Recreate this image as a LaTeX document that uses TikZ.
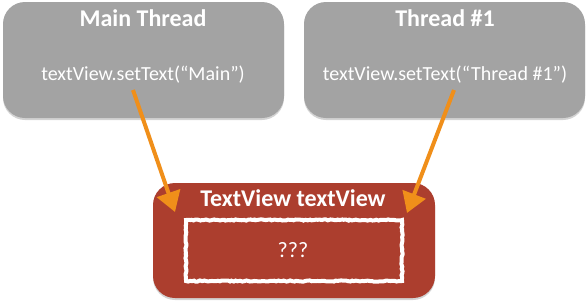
\documentclass[tikz,border=0pt]{standalone}
\usepackage{fontspec}
\setmainfont{Carlito}
\usetikzlibrary{arrows.meta,shadows,decorations.pathmorphing}
\definecolor{boxgray}{RGB}{163,163,163}
\definecolor{boxred}{RGB}{172,62,46}
\definecolor{arroworange}{RGB}{240,143,26}
\tikzset{
  threadbox/.style={fill=boxgray, rounded corners=22pt, minimum width=281pt, minimum height=116pt,
    drop shadow={shadow xshift=0pt, shadow yshift=-2pt, opacity=0.35}},
  viewbox/.style={fill=boxred, rounded corners=22pt, minimum width=282pt, minimum height=115pt,
    drop shadow={shadow xshift=0pt, shadow yshift=-2pt, opacity=0.35}},
  chalkbox/.style={draw=white, line width=4pt, minimum width=216pt, minimum height=61pt,
    decorate, decoration={random steps, segment length=2pt, amplitude=0.6pt}},
  title/.style={text=white, font=\bfseries\fontsize{24}{26}\selectfont},
  code/.style={text=white, font=\fontsize{20}{22}\selectfont},
  chalkarrow/.style={draw=arroworange, line width=4pt,
    -{Triangle[length=20pt,width=24pt]}},
}
\begin{document}
\begin{tikzpicture}[x=1pt,y=-1pt]
\useasboundingbox (0,0) rectangle (588,303);
\node[threadbox] (main) at (143.5,60) {};
\node[threadbox] (t1) at (444.5,60) {};
\node[viewbox] (tv) at (294,240.5) {};
\node[chalkbox] (inner) at (294,250.5) {};
\node[title] (mainT) at (143,18) {Main Thread};
\node[title] (t1T) at (445,18) {Thread \#1};
\node[code] (mainC) at (143,75) {textView.setText(“Main”)};
\node[code] (t1C) at (445,75) {textView.setText(“Thread \#1”)};
\node[title] (tvT) at (293,198) {TextView textView};
\node[code, font=\fontsize{22}{24}\selectfont] (q) at (293,250) {???};
\coordinate (a1s) at (133,90);
\coordinate (a1e) at (175,212);
\coordinate (a2s) at (454,90);
\coordinate (a2e) at (407,213);
\draw[chalkarrow] (a1s) -- (a1e);
\draw[chalkarrow] (a2s) -- (a2e);
\end{tikzpicture}
\end{document}
